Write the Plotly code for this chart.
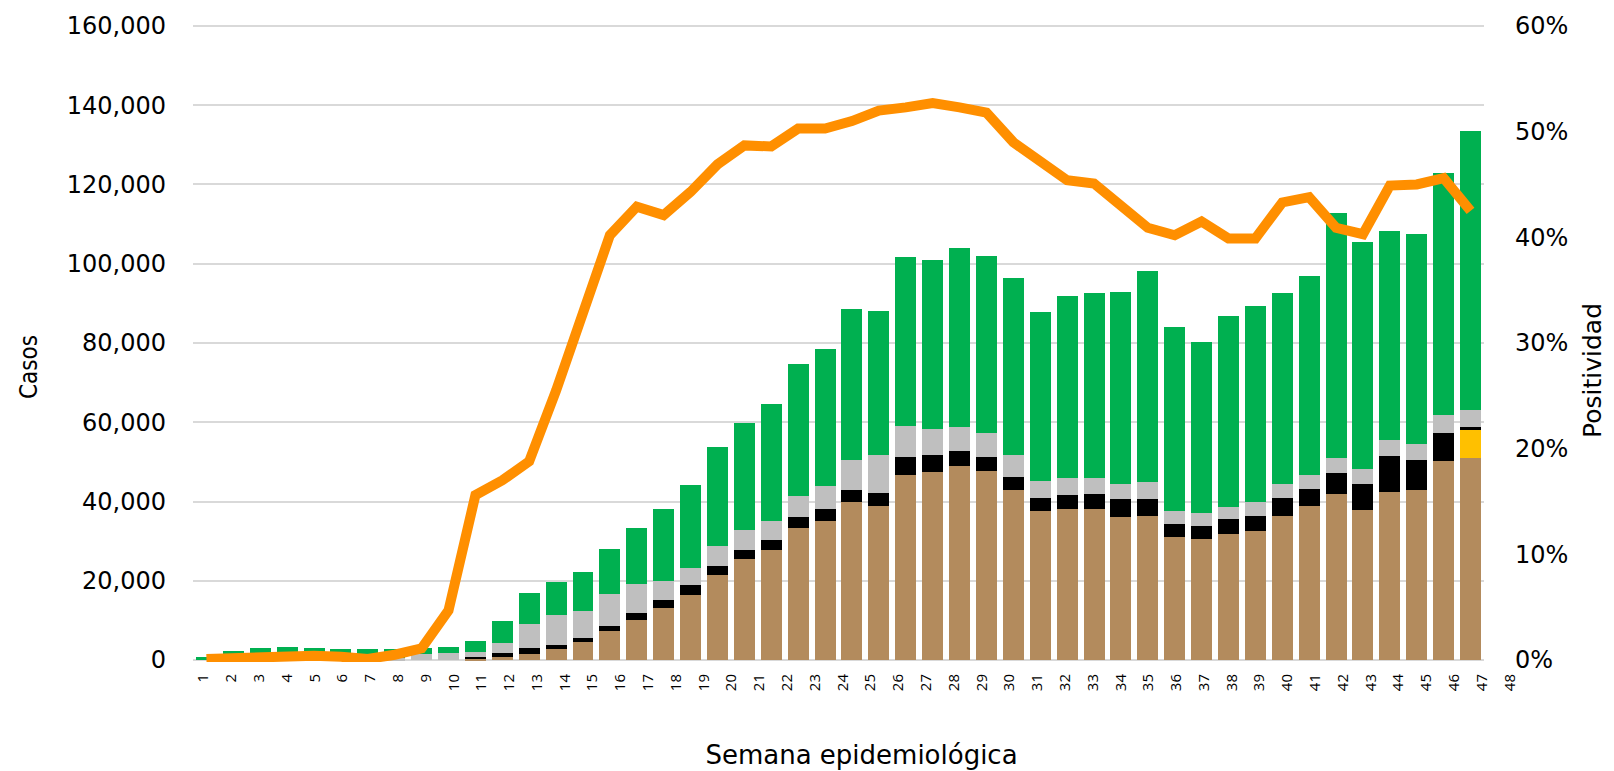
import plotly.graph_objects as go

# ---- data (thousands of cases per epidemiological week slot) ----
weeks = list(range(1, 49))
tick_labels = [str(w) for w in weeks]

brown = [0, 0, 0, 0, 0, 0, 0, 0, 0, 0,
         0.34, 0.84, 1.6, 2.86, 4.63, 7.41, 10.2, 13.1, 16.4, 21.4,
         25.5, 27.7, 33.3, 35.0, 39.8, 38.8, 46.7, 47.4, 48.9, 47.7,
         42.9, 37.5, 38.1, 38.1, 36.0, 36.3, 31.1, 30.5, 31.8, 32.6,
         36.3, 38.8, 42.0, 37.9, 42.4, 42.8, 50.3, 51.1]
yellow = [0] * 47 + [7.0]
black = [0, 0, 0, 0, 0, 0, 0, 0, 0, 0,
         0.34, 0.84, 1.35, 1.01, 1.01, 1.26, 1.76, 2.0, 2.5, 2.3,
         2.3, 2.5, 2.8, 3.0, 3.0, 3.3, 4.5, 4.3, 3.8, 3.6,
         3.2, 3.3, 3.6, 3.8, 4.6, 4.3, 3.2, 3.2, 3.8, 3.8,
         4.5, 4.3, 5.3, 6.4, 9.2, 7.8, 7.0, 0.76]
gray = [0, 0, 0, 0, 0, 0, 0, 0.4, 1.4, 1.85,
        1.43, 2.7, 6.23, 7.58, 6.82, 8.08, 7.3, 4.8, 4.3, 5.0,
        5.0, 4.8, 5.3, 5.8, 7.6, 9.6, 7.8, 6.5, 6.0, 6.0,
        5.6, 4.5, 4.3, 4.1, 3.8, 4.2, 3.2, 3.3, 3.0, 3.6,
        3.6, 3.6, 3.8, 4.0, 3.8, 3.8, 4.5, 4.3]
green = [0.7, 2.3, 3.0, 3.3, 3.0, 2.8, 2.8, 2.4, 1.6, 1.5,
         2.78, 5.39, 7.83, 8.34, 9.85, 11.37, 14.1, 18.2, 20.9, 25.0,
         27.0, 29.7, 33.3, 34.8, 38.1, 36.3, 42.7, 42.7, 45.2, 44.6,
         44.6, 42.5, 45.9, 46.7, 48.5, 53.3, 46.5, 43.3, 48.3, 49.4,
         48.3, 50.1, 61.6, 57.1, 52.8, 53.1, 61.2, 70.3]
positividad = [0.1, 0.2, 0.3, 0.2, 0.4, 0.3, 0.1, 0.5, 1.1, 4.7,
               15.6, 17.0, 18.8, 25.5, 32.8, 40.2, 42.9, 42.1, 44.3, 46.9,
               48.7, 48.6, 50.3, 50.3, 51.0, 52.0, 52.3, 52.7, 52.3, 51.8,
               49.0, 47.2, 45.4, 45.1, 43.1, 40.9, 40.2, 41.5, 39.9, 39.9,
               43.3, 43.8, 40.9, 40.3, 44.9, 45.0, 45.6, 42.5]

series = [
    ("brown", brown, "#B38B5D"),
    ("yellow", yellow, "#FFC000"),
    ("black", black, "#000000"),
    ("gray", gray, "#BFBFBF"),
    ("green", green, "#00B050"),
]

FONT = "DejaVu Sans"
Y_MAX = 160000
PAD = 500  # small range padding so the 0 and 160,000 gridlines are drawn

fig = go.Figure()
for name, vals, color in series:
    fig.add_trace(go.Bar(
        x=weeks, y=[v * 1000 for v in vals], name=name,
        marker=dict(color=color, line=dict(width=0)),
        xaxis="x", yaxis="y", hoverinfo="skip",
    ))

fig.add_trace(go.Scatter(
    x=weeks, y=[p / 100 for p in positividad], mode="lines",
    line=dict(color="#FF8F00", width=10), xaxis="x", yaxis="y2",
    name="Positividad", hoverinfo="skip",
))

# invisible carrier trace so the week-label axis is drawn
fig.add_trace(go.Scatter(
    x=weeks, y=[None] * len(weeks), mode="markers", xaxis="x2", yaxis="y3",
    showlegend=False, hoverinfo="skip", marker=dict(opacity=0),
))

W, H = 1614, 771
L, R, T, B = 185, 92, 16, 117
plot_w = W - L - R
plot_h = H - T - B
x_end = (1476 - L) / plot_w

fig.update_layout(
    width=W, height=H,
    margin=dict(l=L, r=R, t=T, b=B, pad=0, autoexpand=False),
    barmode="stack", bargap=0.22,
    showlegend=False,
    paper_bgcolor="white", plot_bgcolor="rgba(0,0,0,0)",
    font=dict(family=FONT, color="#000000"),
    xaxis=dict(domain=[0, x_end], range=[0.5, 48.5], showticklabels=False,
               showgrid=False, zeroline=False, ticks="", showline=False,
               automargin=False),
    xaxis2=dict(domain=[0, 1], anchor="y3", range=[0.622, 48.73],
                tickmode="array", tickvals=weeks, ticktext=tick_labels,
                tickangle=-90, showgrid=False, zeroline=False, ticks="",
                showline=False, ticklabelstandoff=8, automargin=False,
                tickfont=dict(family="Open Sans", size=15, color="#000000"),
                title=dict(text="Semana epidemiológica", standoff=55,
                           font=dict(family=FONT, size=26, color="#000000"))),
    yaxis=dict(domain=[0, 1], range=[-PAD, Y_MAX + PAD], dtick=20000,
               tick0=0, tickformat=",",
               gridcolor="#D9D9D9", gridwidth=1.5, zeroline=False, ticks="",
               showline=False, ticklabelstandoff=26, automargin=False,
               tickfont=dict(family=FONT, size=24, color="#000000")),
    yaxis2=dict(overlaying="y", side="right", anchor="x",
                range=[-PAD / Y_MAX * 0.6, 0.6 + PAD / Y_MAX * 0.6],
                dtick=0.1, tick0=0, tickformat=".0%", showgrid=False,
                zeroline=False, ticks="", showline=False, ticklabelstandoff=30,
                automargin=False,
                tickfont=dict(family=FONT, size=24, color="#000000")),
    yaxis3=dict(domain=[0, 1], anchor="x2", range=[0, 1], showgrid=False,
                zeroline=False, showticklabels=False, showline=False, ticks="",
                automargin=False),
    annotations=[
        dict(text="Casos", xref="paper", yref="paper",
             x=(21 - L) / plot_w, y=1 - (359 - T) / plot_h,
             xanchor="center", yanchor="middle", textangle=-90, showarrow=False,
             font=dict(family="Liberation Sans Narrow, DejaVu Sans Condensed",
                       size=24, color="#000000")),
        dict(text="Positividad", xref="paper", yref="paper",
             x=(1584 - L) / plot_w, y=1 - (362 - T) / plot_h,
             xanchor="center", yanchor="middle", textangle=-90, showarrow=False,
             font=dict(family=FONT, size=25, color="#000000")),
    ],
)

fig.write_html("out.html")
